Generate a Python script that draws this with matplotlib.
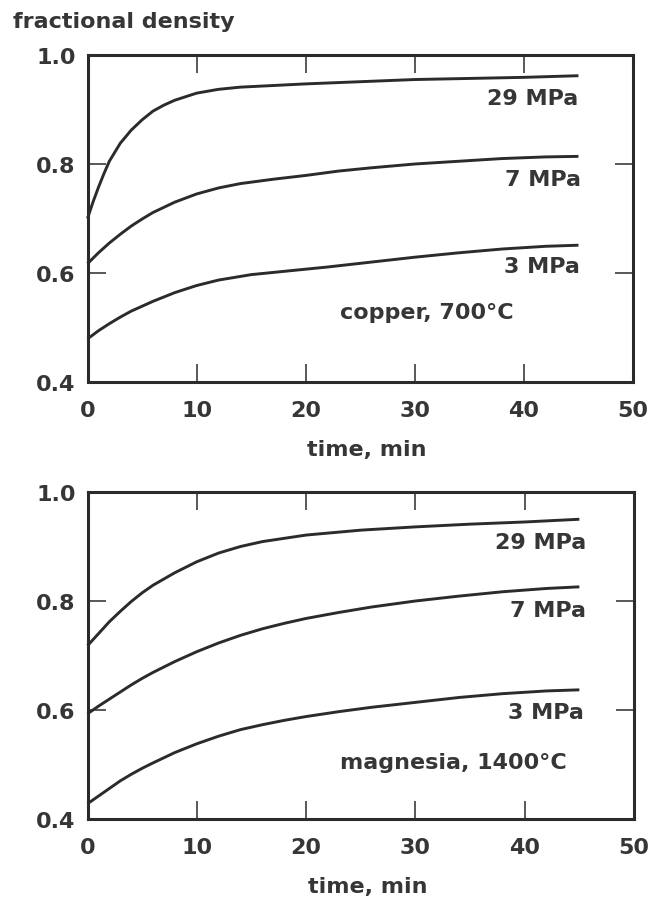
import matplotlib
matplotlib.use("Agg")
import matplotlib.pyplot as plt

# ---- data -------------------------------------------------------------
# copper, 700 C
cu_t29 = [0, 0.5, 1, 1.5, 2, 3, 4, 5, 6, 7, 8, 10, 12, 14, 17, 20, 25, 30, 35, 40, 45]
cu_d29 = [0.700, 0.730, 0.757, 0.782, 0.805, 0.838, 0.862, 0.881, 0.897, 0.908, 0.917,
          0.930, 0.937, 0.941, 0.944, 0.947, 0.951, 0.955, 0.957, 0.959, 0.962]
cu_t7 = [0, 1, 2, 3, 4, 5, 6, 8, 10, 12, 14, 17, 20, 23, 26, 30, 34, 38, 42, 45]
cu_d7 = [0.617, 0.637, 0.655, 0.671, 0.686, 0.699, 0.711, 0.730, 0.745, 0.756, 0.764,
         0.772, 0.779, 0.787, 0.793, 0.800, 0.805, 0.810, 0.813, 0.814]
cu_t3 = [0, 1, 2, 3, 4, 5, 6, 8, 10, 12, 15, 18, 22, 26, 30, 34, 38, 42, 45]
cu_d3 = [0.479, 0.494, 0.507, 0.519, 0.530, 0.539, 0.548, 0.564, 0.577, 0.587, 0.597,
         0.603, 0.611, 0.620, 0.629, 0.637, 0.644, 0.649, 0.651]

# magnesia, 1400 C
mg_t29 = [0, 1, 2, 3, 4, 5, 6, 8, 10, 12, 14, 16, 18, 20, 25, 30, 35, 40, 45]
mg_d29 = [0.718, 0.740, 0.762, 0.781, 0.799, 0.815, 0.829, 0.852, 0.872, 0.888, 0.900,
          0.909, 0.915, 0.921, 0.930, 0.936, 0.941, 0.945, 0.950]
mg_t7 = [0, 1, 2, 3, 4, 5, 6, 8, 10, 12, 14, 16, 18, 20, 23, 26, 30, 34, 38, 42, 45]
mg_d7 = [0.593, 0.607, 0.620, 0.633, 0.646, 0.658, 0.669, 0.689, 0.707, 0.723, 0.737,
         0.749, 0.759, 0.768, 0.779, 0.789, 0.800, 0.809, 0.817, 0.823, 0.826]
mg_t3 = [0, 1, 2, 3, 4, 5, 6, 8, 10, 12, 14, 16, 18, 20, 23, 26, 30, 34, 38, 42, 45]
mg_d3 = [0.428, 0.442, 0.456, 0.470, 0.482, 0.493, 0.503, 0.522, 0.538, 0.552, 0.564,
         0.573, 0.581, 0.588, 0.597, 0.605, 0.614, 0.623, 0.630, 0.635, 0.637]

pressure_labels = ["29 MPa", "7 MPa", "3 MPa"]
x_ticks = [0, 10, 20, 30, 40, 50]
y_ticks = [0.4, 0.6, 0.8, 1.0]
x_tick_labels = ["0", "10", "20", "30", "40", "50"]
y_tick_labels = ["0.4", "0.6", "0.8", "1.0"]

# ---- style ------------------------------------------------------------
INK = "#2b2b2b"
TXT = "#363636"
FS = 16
plt.rcParams["font.family"] = ["DejaVu Sans"]
plt.rcParams["font.weight"] = "bold"

fig = plt.figure(figsize=(6.53, 9.04), dpi=100)

W, H = 653.0, 904.0
def axes_rect(left, top, right, bottom):
    return [left / W, 1 - bottom / H, (right - left) / W, (bottom - top) / H]

ax1 = fig.add_axes(axes_rect(87.5, 56, 633, 383))
ax2 = fig.add_axes(axes_rect(87.5, 493, 634, 820))


def style_axes(ax):
    ax.set_xlim(0, 50)
    ax.set_ylim(0.4, 1.0)
    for sp in ax.spines.values():
        sp.set_linewidth(2.2)
        sp.set_color(INK)
    ax.set_xticks(x_ticks)
    ax.set_xticklabels(x_tick_labels)
    ax.set_yticks(y_ticks)
    ax.set_yticklabels(y_tick_labels)
    ax.tick_params(axis="both", which="major", direction="in", length=13,
                   width=1.1, color=INK, top=True, right=True,
                   labelsize=FS, labelcolor=TXT)
    ax.tick_params(axis="x", pad=13)
    ax.tick_params(axis="y", pad=8.5)
    for lab in ax.get_xticklabels() + ax.get_yticklabels():
        lab.set_fontweight("bold")
    ax.set_xlabel("time, min", fontsize=FS, fontweight="bold", color=TXT)
    ax.xaxis.set_label_coords(0.512, -0.175)


def draw_panel(ax, series, label_pos, note, note_pos):
    for (t, d), lab, (lx, ly) in zip(series, pressure_labels, label_pos):
        ax.plot(t, d, color=INK, lw=2.1, solid_capstyle="butt",
                solid_joinstyle="round", clip_on=False)
        ax.text(lx, ly, lab, ha="right", va="center", fontsize=FS,
                fontweight="bold", color=TXT)
    ax.text(note_pos[0], note_pos[1], note, ha="center", va="center",
            fontsize=FS, fontweight="bold", color=TXT)


style_axes(ax1)
style_axes(ax2)

draw_panel(ax1,
           [(cu_t29, cu_d29), (cu_t7, cu_d7), (cu_t3, cu_d3)],
           [(45.0, 0.922), (45.2, 0.772), (45.1, 0.612)],
           "copper, 700°C", (31.1, 0.528))
draw_panel(ax2,
           [(mg_t29, mg_d29), (mg_t7, mg_d7), (mg_t3, mg_d3)],
           [(45.6, 0.909), (45.6, 0.784), (45.4, 0.597)],
           "magnesia, 1400°C", (33.5, 0.504))

fig.text(13 / W, 1 - 22 / H, "fractional density", ha="left", va="center",
         fontsize=FS, fontweight="bold", color=TXT)

fig.savefig("out.png", dpi=100, facecolor="white")
